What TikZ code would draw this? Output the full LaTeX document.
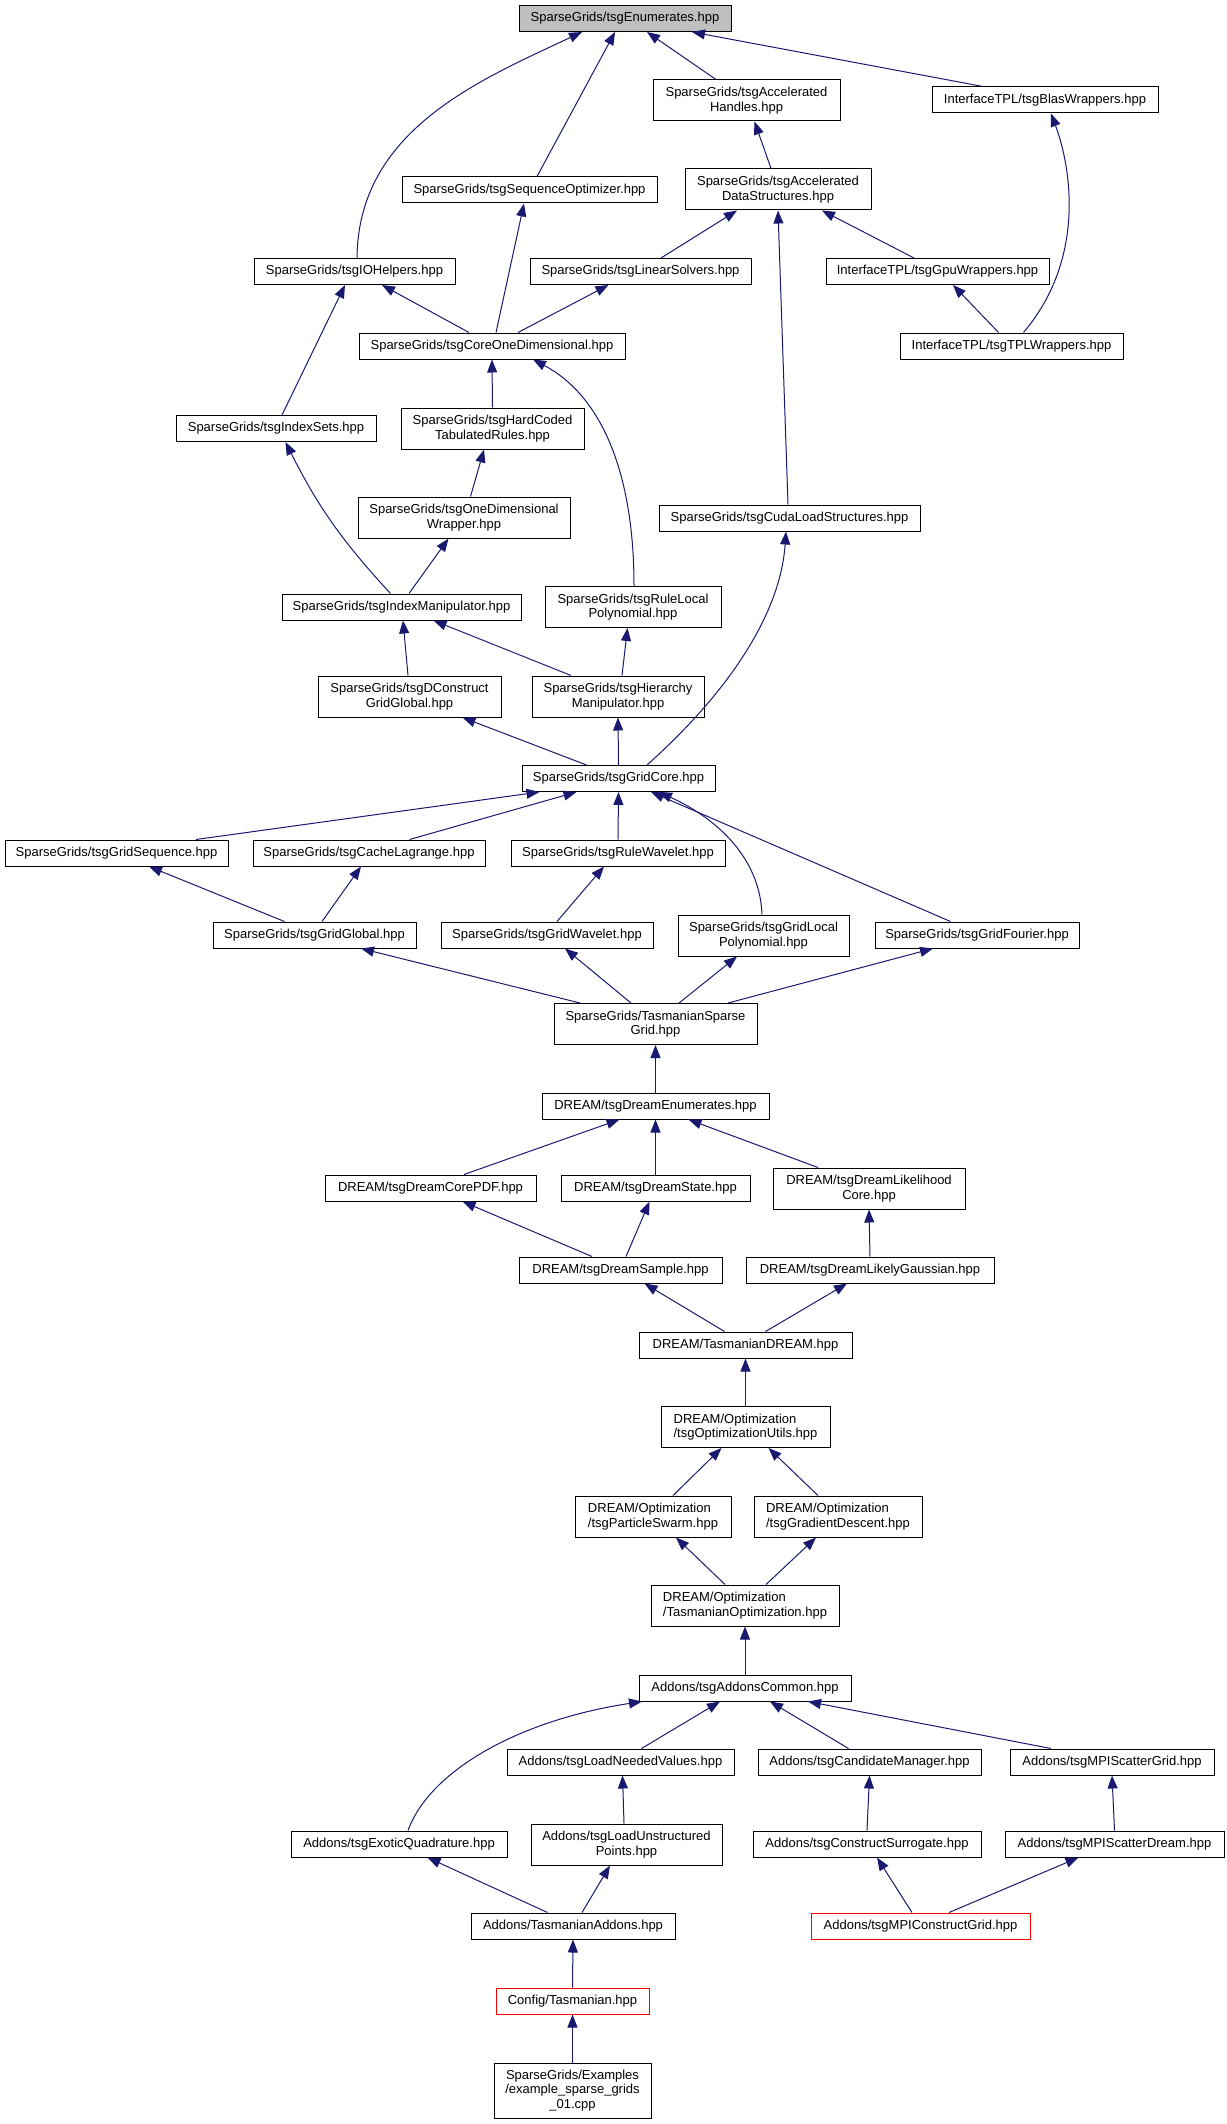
\documentclass[tikz,border=0pt]{standalone}
\usepackage{fontspec}
\setmainfont{Liberation Sans}
\usepackage{xcolor}
\usepackage{tikz}
\usetikzlibrary{
  positioning,
  calc,
  arrows.meta
}
\definecolor{midnight}{HTML}{191970}

\begin{document}
\begin{tikzpicture}[x=1pt,y=-1pt,
  box/.style={draw=black,fill=white,line width=1pt,inner sep=2pt,
    minimum height=26pt,align=center,font=\fontsize{13}{14.5}\selectfont},
  wd/.style={minimum width=#1},
  tall/.style={minimum height=41pt},
  root/.style={fill=gray!50},
  cut/.style={draw=red},
  dep/.style={draw=midnight,line width=1pt,-{Triangle[length=13pt,width=10pt]}}]
  \useasboundingbox (0,0) rectangle (1226,2124);

  % ノードの定義
  \node[box,root,wd=212pt] (enum) at (625,18.5) {SparseGrids/tsgEnumerates.hpp};
  \node[box,tall,wd=187pt] (acch) at (746.5,100.5) {SparseGrids/tsgAccelerated\\Handles.hpp};
  \node[box,wd=226pt] (blas) at (1045,100) {InterfaceTPL/tsgBlasWrappers.hpp};
  \node[box,wd=255pt] (seqopt) at (529.5,190) {SparseGrids/tsgSequenceOptimizer.hpp};
  \node[box,tall,wd=186pt] (accds) at (778,189.5) {SparseGrids/tsgAccelerated\\DataStructures.hpp};
  \node[box,wd=201pt] (iohelp) at (354.5,271.5) {SparseGrids/tsgIOHelpers.hpp};
  \node[box,wd=221pt] (linsolv) at (640.5,271.5) {SparseGrids/tsgLinearSolvers.hpp};
  \node[box,wd=223pt] (gpuwrap) at (937.5,271.5) {InterfaceTPL/tsgGpuWrappers.hpp};
  \node[box,wd=266pt] (core1d) at (492,346) {SparseGrids/tsgCoreOneDimensional.hpp};
  \node[box,wd=223pt] (tplwrap) at (1011.5,346) {InterfaceTPL/tsgTPLWrappers.hpp};
  \node[box,wd=200pt] (idxsets) at (276,428.5) {SparseGrids/tsgIndexSets.hpp};
  \node[box,tall,wd=183pt] (hardcoded) at (492.5,428.5) {SparseGrids/tsgHardCoded\\TabulatedRules.hpp};
  \node[box,tall,wd=212pt] (onedimwrap) at (464,517.5) {SparseGrids/tsgOneDimensional\\Wrapper.hpp};
  \node[box,wd=261pt] (cudaload) at (789.5,518) {SparseGrids/tsgCudaLoadStructures.hpp};
  \node[box,wd=239pt] (idxmanip) at (401.5,607) {SparseGrids/tsgIndexManipulator.hpp};
  \node[box,tall,wd=176pt] (rulelocal) at (633,607) {SparseGrids/tsgRuleLocal\\Polynomial.hpp};
  \node[box,tall,wd=183pt] (dconstruct) at (409.5,696.5) {SparseGrids/tsgDConstruct\\GridGlobal.hpp};
  \node[box,tall,wd=172pt] (hierarchy) at (618,696.5) {SparseGrids/tsgHierarchy\\Manipulator.hpp};
  \node[box,wd=193pt] (gridcore) at (618.5,778.5) {SparseGrids/tsgGridCore.hpp};
  \node[box,wd=223pt] (gridseq) at (116.5,853) {SparseGrids/tsgGridSequence.hpp};
  \node[box,wd=232pt] (cachelag) at (369,853) {SparseGrids/tsgCacheLagrange.hpp};
  \node[box,wd=214pt] (rulewav) at (618,853) {SparseGrids/tsgRuleWavelet.hpp};
  \node[box,wd=203pt] (gridglobal) at (314.5,935) {SparseGrids/tsgGridGlobal.hpp};
  \node[box,wd=212pt] (gridwav) at (547,935) {SparseGrids/tsgGridWavelet.hpp};
  \node[box,tall,wd=171pt] (gridlocal) at (763.5,935.5) {SparseGrids/tsgGridLocal\\Polynomial.hpp};
  \node[box,wd=204pt] (gridfourier) at (977,935) {SparseGrids/tsgGridFourier.hpp};
  \node[box,tall,wd=203pt] (tsg) at (655.5,1024) {SparseGrids/TasmanianSparse\\Grid.hpp};
  \node[box,wd=227pt] (dreamenum) at (655.5,1106) {DREAM/tsgDreamEnumerates.hpp};
  \node[box,wd=211pt] (dreampdf) at (430.5,1188) {DREAM/tsgDreamCorePDF.hpp};
  \node[box,wd=189pt] (dreamstate) at (655.5,1188) {DREAM/tsgDreamState.hpp};
  \node[box,tall,wd=192pt] (dreamlike) at (869,1188.5) {DREAM/tsgDreamLikelihood\\Core.hpp};
  \node[box,wd=203pt] (dreamsample) at (620.5,1270) {DREAM/tsgDreamSample.hpp};
  \node[box,wd=248pt] (dreamgauss) at (870,1270) {DREAM/tsgDreamLikelyGaussian.hpp};
  \node[box,wd=213pt] (tasdream) at (745.5,1345) {DREAM/TasmanianDREAM.hpp};
  \node[box,tall,wd=169pt,align=left] (optutils) at (745.5,1427) {DREAM/Optimization\\/tsgOptimizationUtils.hpp};
  \node[box,tall,wd=156pt,align=left] (pswarm) at (653,1516.5) {DREAM/Optimization\\/tsgParticleSwarm.hpp};
  \node[box,tall,wd=168pt,align=left] (graddesc) at (838,1516.5) {DREAM/Optimization\\/tsgGradientDescent.hpp};
  \node[box,tall,wd=188pt,align=left] (tasopt) at (745,1605.5) {DREAM/Optimization\\/TasmanianOptimization.hpp};
  \node[box,wd=212pt] (addcommon) at (745,1688) {Addons/tsgAddonsCommon.hpp};
  \node[box,wd=227pt] (loadneed) at (620.5,1762) {Addons/tsgLoadNeededValues.hpp};
  \node[box,wd=223pt] (candman) at (869.5,1762) {Addons/tsgCandidateManager.hpp};
  \node[box,wd=204pt] (mpiscgrid) at (1112,1762) {Addons/tsgMPIScatterGrid.hpp};
  \node[box,wd=216pt] (exotic) at (399,1844) {Addons/tsgExoticQuadrature.hpp};
  \node[box,tall,wd=191pt] (loadunstr) at (626.5,1844.5) {Addons/tsgLoadUnstructured\\Points.hpp};
  \node[box,wd=228pt] (consurr) at (867,1844) {Addons/tsgConstructSurrogate.hpp};
  \node[box,wd=219pt] (mpiscdream) at (1114.5,1844) {Addons/tsgMPIScatterDream.hpp};
  \node[box,wd=204pt] (tasaddons) at (573,1926) {Addons/TasmanianAddons.hpp};
  \node[box,cut,wd=219pt] (mpicongrid) at (920.5,1926) {Addons/tsgMPIConstructGrid.hpp};
  \node[box,cut,wd=153pt] (config) at (572.5,2001) {Config/Tasmanian.hpp};
  \node[box,wd=157pt,minimum height=55pt] (example) at (572.5,2090.5) {SparseGrids/Examples\\/example\_sparse\_grids\\\_01.cpp};

  % 依存関係の矢印
  \draw[dep] ([xshift=2.5]iohelp.north) .. controls (358,130) and (480,80) .. ([xshift=-43]enum.south);
  \draw[dep] ([xshift=7.5]seqopt.north) -- ([xshift=-10]enum.south);
  \draw[dep] ([xshift=-30.5]acch.north) -- ([xshift=22]enum.south);
  \draw[dep] ([xshift=-62]blas.north) -- ([xshift=67]enum.south);
  \draw[dep] ([xshift=-7]accds.north) -- ([xshift=8]acch.south);
  \draw[dep] ([xshift=12]tplwrap.north) .. controls (1085,260) and (1072,170) .. ([xshift=6]blas.south);
  \draw[dep] ([xshift=20.5]linsolv.north) -- ([xshift=-41]accds.south);
  \draw[dep] ([xshift=-23.5]gpuwrap.north) -- ([xshift=44]accds.south);
  \draw[dep] ([xshift=-1.5]cudaload.north) -- (accds.south);
  \draw[dep] ([xshift=-23]core1d.north) -- ([xshift=27.5]iohelp.south);
  \draw[dep] ([xshift=4]core1d.north) -- ([xshift=-5.5]seqopt.south);
  \draw[dep] ([xshift=26]core1d.north) -- ([xshift=-32]linsolv.south);
  \draw[dep] ([xshift=-13]tplwrap.north) -- ([xshift=15.5]gpuwrap.south);
  \draw[dep] ([xshift=6]idxsets.north) -- ([xshift=-9.5]iohelp.south);
  \draw[dep] (hardcoded.north) -- (core1d.south);
  \draw[dep] ([xshift=1]rulelocal.north) .. controls (634,470) and (600,395) .. ([xshift=41]core1d.south);
  \draw[dep] ([xshift=6.5]onedimwrap.north) -- ([xshift=-8.5]hardcoded.south);
  \draw[dep] ([xshift=-11]idxmanip.north) to[bend left=8] ([xshift=9.5]idxsets.south);
  \draw[dep] ([xshift=7.5]idxmanip.north) -- ([xshift=-15.5]onedimwrap.south);
  \draw[dep] ([xshift=-1.5]dconstruct.north) -- ([xshift=1.5]idxmanip.south);
  \draw[dep] ([xshift=-47]hierarchy.north) -- ([xshift=32]idxmanip.south);
  \draw[dep] ([xshift=4]hierarchy.north) -- ([xshift=-5.5]rulelocal.south);
  \draw[dep] ([xshift=28.5]gridcore.north) .. controls (720,700) and (780,620) .. ([xshift=-3.5]cudaload.south);
  \draw[dep] ([xshift=-32]gridcore.north) -- ([xshift=53]dconstruct.south);
  \draw[dep] (gridcore.north) -- (hierarchy.south);
  \draw[dep] ([xshift=79.5]gridseq.north) -- ([xshift=-79]gridcore.south);
  \draw[dep] ([xshift=40.5]cachelag.north) -- ([xshift=-42]gridcore.south);
  \draw[dep] (rulewav.north) -- (gridcore.south);
  \draw[dep] ([xshift=-1.5]gridlocal.north) .. controls (760,860) and (720,820) .. ([xshift=40.5]gridcore.south);
  \draw[dep] ([xshift=-26.5]gridfourier.north) -- ([xshift=32.5]gridcore.south);
  \draw[dep] ([xshift=-30]gridglobal.north) -- ([xshift=32.5]gridseq.south);
  \draw[dep] ([xshift=7.5]gridglobal.north) -- ([xshift=-8]cachelag.south);
  \draw[dep] ([xshift=10]gridwav.north) -- ([xshift=-14]rulewav.south);
  \draw[dep] ([xshift=-75.5]tsg.north) -- ([xshift=46.5]gridglobal.south);
  \draw[dep] ([xshift=-24.5]tsg.north) -- ([xshift=18]gridwav.south);
  \draw[dep] ([xshift=23.5]tsg.north) -- ([xshift=-26.5]gridlocal.south);
  \draw[dep] ([xshift=72.5]tsg.north) -- ([xshift=-44]gridfourier.south);
  \draw[dep] (dreamenum.north) -- (tsg.south);
  \draw[dep] ([xshift=33.5]dreampdf.north) -- ([xshift=-36]dreamenum.south);
  \draw[dep] (dreamstate.north) -- (dreamenum.south);
  \draw[dep] ([xshift=-51]dreamlike.north) -- ([xshift=33]dreamenum.south);
  \draw[dep] ([xshift=-28.5]dreamsample.north) -- ([xshift=32]dreampdf.south);
  \draw[dep] ([xshift=5.5]dreamsample.north) -- ([xshift=-6]dreamstate.south);
  \draw[dep] (dreamgauss.north) -- (dreamlike.south);
  \draw[dep] ([xshift=-21]tasdream.north) -- ([xshift=24]dreamsample.south);
  \draw[dep] ([xshift=20]tasdream.north) -- ([xshift=-23]dreamgauss.south);
  \draw[dep] (optutils.north) -- (tasdream.south);
  \draw[dep] ([xshift=20]pswarm.north) -- ([xshift=-24]optutils.south);
  \draw[dep] ([xshift=-20]graddesc.north) -- ([xshift=23]optutils.south);
  \draw[dep] ([xshift=-20]tasopt.north) -- ([xshift=23]pswarm.south);
  \draw[dep] ([xshift=21]tasopt.north) -- ([xshift=-22]graddesc.south);
  \draw[dep] (addcommon.north) -- (tasopt.south);
  \draw[dep] ([xshift=9]exotic.north) .. controls (430,1770) and (520,1720) .. ([xshift=-103]addcommon.south);
  \draw[dep] ([xshift=21]loadneed.north) -- ([xshift=-25]addcommon.south);
  \draw[dep] ([xshift=-21]candman.north) -- ([xshift=25]addcommon.south);
  \draw[dep] ([xshift=-61]mpiscgrid.north) -- ([xshift=63]addcommon.south);
  \draw[dep] ([xshift=-2.5]loadunstr.north) -- ([xshift=2]loadneed.south);
  \draw[dep] (consurr.north) -- (candman.south);
  \draw[dep] (mpiscdream.north) -- (mpiscgrid.south);
  \draw[dep] ([xshift=-25.5]tasaddons.north) -- ([xshift=28.5]exotic.south);
  \draw[dep] ([xshift=9]tasaddons.north) -- ([xshift=-16.5]loadunstr.south);
  \draw[dep] ([xshift=-8.5]mpicongrid.north) -- ([xshift=10]consurr.south);
  \draw[dep] ([xshift=28.5]mpicongrid.north) -- ([xshift=-36]mpiscdream.south);
  \draw[dep] (config.north) -- (tasaddons.south);
  \draw[dep] (example.north) -- (config.south);
\end{tikzpicture}
\end{document}
